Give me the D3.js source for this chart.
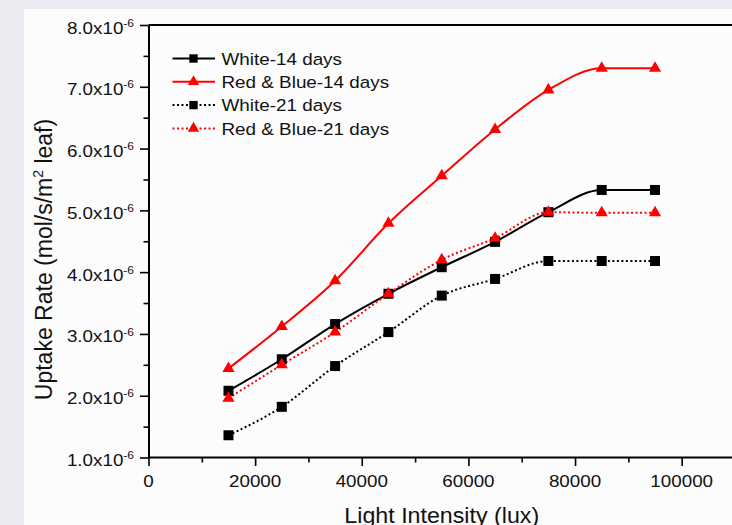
<!DOCTYPE html>
<html>
<head>
<meta charset="utf-8">
<script src="https://cdnjs.cloudflare.com/ajax/libs/d3/7.8.5/d3.min.js"></script>
<style>
  html, body { margin: 0; padding: 0; background: #e9ebf0; }
  svg { display: block; }
  text { font-family: Arial, "Liberation Sans", sans-serif; fill: #111; }
</style>
</head>
<body>
<svg id="chart" width="732" height="525"></svg>
<script>
// ---- data (uptake rate, mol/s/m^2 leaf) ----
const lightIntensity = [15000, 25000, 35000, 45000, 55000, 65000, 75000, 85000, 95000];
const white14 = [2.08e-6, 2.59e-6, 3.16e-6, 3.65e-6, 4.08e-6, 4.49e-6, 4.97e-6, 5.33e-6, 5.33e-6];
const redBlue14 = [2.44e-6, 3.12e-6, 3.86e-6, 4.79e-6, 5.56e-6, 6.31e-6, 6.95e-6, 7.30e-6, 7.30e-6];
const white21 = [1.36e-6, 1.82e-6, 2.48e-6, 3.03e-6, 3.62e-6, 3.89e-6, 4.18e-6, 4.18e-6, 4.18e-6];
const redBlue21 = [1.96e-6, 2.50e-6, 3.03e-6, 3.65e-6, 4.20e-6, 4.55e-6, 4.97e-6, 4.96e-6, 4.96e-6];
const seriesNames = ["White-14 days", "Red & Blue-14 days", "White-21 days", "Red & Blue-21 days"];
const xTickValues = [0, 20000, 40000, 60000, 80000, 100000];
const xMinorTickValues = [10000, 30000, 50000, 70000, 90000];
const yTickValues = [1e-6, 2e-6, 3e-6, 4e-6, 5e-6, 6e-6, 7e-6, 8e-6];
const yMinorTickValues = [1.5e-6, 2.5e-6, 3.5e-6, 4.5e-6, 5.5e-6, 6.5e-6, 7.5e-6];
const xTitle = "Light Intensity (lux)";

const series = [
  { name: seriesNames[0], values: white14, color: "#000000", dashed: false, symbol: d3.symbolSquare },
  { name: seriesNames[1], values: redBlue14, color: "#ff0000", dashed: false, symbol: d3.symbolTriangle },
  { name: seriesNames[2], values: white21, color: "#000000", dashed: true, symbol: d3.symbolSquare },
  { name: seriesNames[3], values: redBlue21, color: "#ff0000", dashed: true, symbol: d3.symbolTriangle }
];

const svg = d3.select("#chart");
// background card
svg.append("rect").attr("x", 0).attr("y", 0).attr("width", 732).attr("height", 525).attr("fill", "#e9ebf0");
svg.append("rect").attr("x", 24).attr("y", 9).attr("width", 708).attr("height", 516).attr("fill", "#fcfcfc");

const x = d3.scaleLinear().domain([0, 110000]).range([148.5, 735]);
const y = d3.scaleLinear().domain([1e-6, 8e-6]).range([457.5, 25]);

// frame top line
svg.append("line").attr("x1", x(0)).attr("x2", 740).attr("y1", y(8e-6)).attr("y2", y(8e-6))
  .attr("stroke", "#000").attr("stroke-width", 2);

// x axis
const xAxis = svg.append("g").attr("transform", `translate(0,${y(1e-6)})`)
  .call(d3.axisBottom(x).tickValues(xTickValues).tickSizeInner(8.5).tickSizeOuter(0).tickFormat(""));
xAxis.select(".domain").attr("stroke-width", 2).attr("d", `M${x(0)},0H740`);
xAxis.selectAll(".tick line").attr("stroke-width", 1.6);
svg.append("g").attr("transform", `translate(0,${y(1e-6)})`)
  .call(d3.axisBottom(x).tickValues(xMinorTickValues).tickSizeInner(5).tickSizeOuter(0).tickFormat(""))
  .call(g => g.select(".domain").remove())
  .selectAll(".tick line").attr("stroke-width", 1.6);
// x tick labels (slightly wide glyphs, as in the reference)
const fmtX = d3.format("d");
xTickValues.forEach(v => {
  svg.append("g").attr("transform", `translate(${x(v)},487) scale(1.14,1)`)
    .append("text").attr("text-anchor", "middle").attr("font-size", 16.5).text(fmtX(v));
});

// y axis
const yAxis = svg.append("g").attr("transform", `translate(${x(0)},0)`)
  .call(d3.axisLeft(y).tickValues(yTickValues).tickSizeInner(8.5).tickSizeOuter(0).tickFormat(""));
yAxis.select(".domain").attr("stroke-width", 2);
yAxis.selectAll(".tick line").attr("stroke-width", 1.6);
svg.append("g").attr("transform", `translate(${x(0)},0)`)
  .call(d3.axisLeft(y).tickValues(yMinorTickValues).tickSizeInner(5).tickSizeOuter(0).tickFormat(""))
  .call(g => g.select(".domain").remove())
  .selectAll(".tick line").attr("stroke-width", 1.6);

// y tick labels with superscript exponent
yTickValues.forEach(v => {
  const t = svg.append("g").attr("transform", `translate(134,${y(v) + 8.5}) scale(1.14,1)`)
    .append("text").attr("text-anchor", "end").attr("font-size", 16.5);
  t.append("tspan").text((v * 1e6).toFixed(1) + "x10");
  t.append("tspan").attr("dy", -6.8).attr("font-size", 10.5).text("-6");
});

// axis titles
svg.append("g").attr("transform", `translate(${x(55000)},523) scale(1.055,1)`)
  .append("text").attr("text-anchor", "middle").attr("font-size", 22).text(xTitle);
const yt = svg.append("text").attr("transform", "translate(51.5,259.5) rotate(-90)")
  .attr("text-anchor", "middle").attr("font-size", 23);
yt.append("tspan").text("Uptake Rate (mol/s/m");
yt.append("tspan").attr("dy", -9).attr("font-size", 14).text("2");
yt.append("tspan").attr("dy", 9).text(" leaf)");

// lines
const line = d3.line().x((d, i) => x(lightIntensity[i])).y(d => y(d)).curve(d3.curveMonotoneX);
series.forEach(s => {
  svg.append("path").attr("d", line(s.values)).attr("fill", "none")
    .attr("stroke", s.color).attr("stroke-width", 2)
    .attr("stroke-dasharray", s.dashed ? "2,2.5" : null);
});
// markers
series.forEach(s => {
  const size = s.symbol === d3.symbolSquare ? 100 : 64;
  svg.append("g").selectAll("path").data(s.values).join("path")
    .attr("transform", (d, i) => `translate(${x(lightIntensity[i])},${y(d)})`)
    .attr("d", d3.symbol(s.symbol, size)())
    .attr("fill", s.color);
});

// legend
const lg = svg.append("g");
series.forEach((s, i) => {
  const ly = 58.5 + i * 23.3;
  lg.append("line").attr("x1", 172.5).attr("x2", 215).attr("y1", ly).attr("y2", ly)
    .attr("stroke", s.color).attr("stroke-width", 2)
    .attr("stroke-dasharray", s.dashed ? "2,2.5" : null);
  const size = s.symbol === d3.symbolSquare ? 70 : 56;
  lg.append("path").attr("transform", `translate(193.5,${ly})`)
    .attr("d", d3.symbol(s.symbol, size)()).attr("fill", s.color);
  lg.append("g").attr("transform", `translate(221.5,${ly + 6.3}) scale(1.11,1)`)
    .append("text").attr("font-size", 17).text(s.name);
});
</script>
</body>
</html>
